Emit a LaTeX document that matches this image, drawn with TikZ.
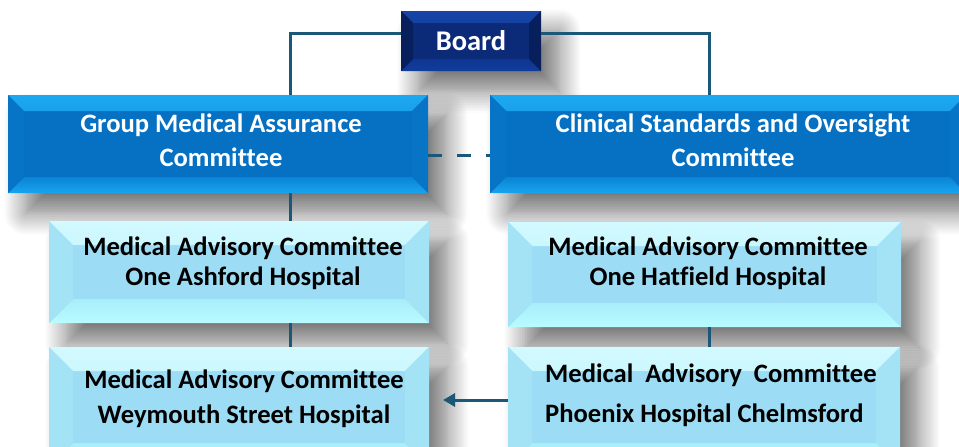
\documentclass[tikz,border=0pt]{standalone}
\usepackage{fontspec}
\setmainfont{Carlito}[Ligatures={NoCommon}]
\usetikzlibrary{shadows.blur,arrows.meta}
\definecolor{navyC}{HTML}{0B2A78}
\definecolor{navyT}{HTML}{1645A8}
\definecolor{navyTi}{HTML}{0E3388}
\definecolor{navyB}{HTML}{0E3592}
\definecolor{navyBo}{HTML}{123C9C}
\definecolor{navyS}{HTML}{081F5E}
\definecolor{blueC}{HTML}{0670C2}
\definecolor{blueT}{HTML}{1CA8F0}
\definecolor{blueTi}{HTML}{0A80D2}
\definecolor{blueBi}{HTML}{0A84D6}
\definecolor{blueB}{HTML}{18A4EE}
\definecolor{blueS}{HTML}{0874C6}
\definecolor{liteC}{HTML}{9CDCF4}
\definecolor{liteT}{HTML}{D2FAFF}
\definecolor{liteTi}{HTML}{B0ECFA}
\definecolor{liteBi}{HTML}{A8EEFA}
\definecolor{liteB}{HTML}{B8FCFF}
\definecolor{liteS}{HTML}{A4E2F6}
\definecolor{lineC}{HTML}{1B5877}
\tikzset{
  bevel/.style n args={6}{path picture={
    \shade[top color=#2, bottom color=#3] (path picture bounding box.north west) -- (path picture bounding box.north east)
      -- ([xshift=-#1pt,yshift=-#1pt]path picture bounding box.north east)
      -- ([xshift=#1pt,yshift=-#1pt]path picture bounding box.north west) -- cycle;
    \shade[top color=#4, bottom color=#5] (path picture bounding box.south west) -- (path picture bounding box.south east)
      -- ([xshift=-#1pt,yshift=#1pt]path picture bounding box.south east)
      -- ([xshift=#1pt,yshift=#1pt]path picture bounding box.south west) -- cycle;
    \fill[#6] (path picture bounding box.north west) -- (path picture bounding box.south west)
      -- ([xshift=#1pt,yshift=#1pt]path picture bounding box.south west)
      -- ([xshift=#1pt,yshift=-#1pt]path picture bounding box.north west) -- cycle;
    \fill[#6] (path picture bounding box.north east) -- (path picture bounding box.south east)
      -- ([xshift=-#1pt,yshift=#1pt]path picture bounding box.south east)
      -- ([xshift=-#1pt,yshift=-#1pt]path picture bounding box.north east) -- cycle;
  }},
  boxbase/.style={rectangle, inner sep=0pt, outer sep=0pt,
    blur shadow={shadow xshift=18pt, shadow yshift=-20pt, shadow blur radius=22pt,
      shadow blur steps=14, shadow opacity=55}},
  darkbox/.style={boxbase, fill=navyC, bevel={12}{navyT}{navyTi}{navyB}{navyBo}{navyS}, text=white,
    font=\fontsize{28.5}{32}\selectfont\bfseries},
  bluebox/.style={boxbase, fill=blueC, bevel={16}{blueT}{blueTi}{blueBi}{blueB}{blueS}},
  lightbox/.style={boxbase, fill=liteC, bevel={24}{liteT}{liteTi}{liteBi}{liteB}{liteS}},
  bluetext/.style={align=center, text=white, inner sep=0pt, font=\fontsize{26.6}{34}\selectfont\bfseries},
  lighttext/.style={align=center, text=black, inner sep=0pt, font=\fontsize{26.6}{30}\selectfont\bfseries},
  conn/.style={draw=lineC, line width=3pt},
}
\begin{document}
\begin{tikzpicture}[x=1pt,y=-1pt]
\useasboundingbox (0,0) rectangle (959,447);
\clip (0,0) rectangle (959,447);
\node[darkbox, minimum width=140pt, minimum height=60pt] (board) at (471,41) {Board};
\node[bluebox, minimum width=420pt, minimum height=98pt] (gmac) at (218,144) {};
\node[bluetext] (gmact) at (221,140) {Group Medical Assurance\\Committee};
\node[bluebox, minimum width=476pt, minimum height=98pt] (csoc) at (728,144) {};
\node[bluetext] (csoct) at (733,140) {Clinical Standards and Oversight\\Committee};
\node[lightbox, minimum width=380pt, minimum height=102pt] (ash) at (239,272) {};
\node[lighttext] (asht) at (243,263) {Medical Advisory Committee\\One Ashford Hospital};
\node[lightbox, minimum width=393pt, minimum height=105pt] (hat) at (704.5,274.5) {};
\node[lighttext] (hatt) at (708,263.5) {Medical Advisory Committee\\One Hatfield Hospital};
\node[lightbox, minimum width=380pt, minimum height=120pt] (wey) at (239,407) {};
\node[lighttext, font=\fontsize{26.6}{35}\selectfont\bfseries] (weyt) at (244,399) {Medical Advisory Committee\\Weymouth Street Hospital};
\node[lightbox, minimum width=392pt, minimum height=120pt] (pho) at (704,407) {};
\node[lighttext, align=left, anchor=west, font=\fontsize{26.6}{40}\selectfont\bfseries] (phot) at (545,395) {Medical\ \ Advisory\ \ Committee\\Phoenix Hospital Chelmsford};
\coordinate (gx) at (290,0);
\coordinate (hx) at (709,0);
\coordinate (dy) at (0,155);
\coordinate (ay) at (0,400);
\coordinate (tip) at (443,400);
\draw[conn] ([yshift=8pt]board.west) -| (gmac.north -| gx);
\draw[conn] ([yshift=8pt]board.east) -| (csoc.north -| hx);
\draw[conn] (gmac.south -| gx) -- (ash.north -| gx);
\draw[conn] (ash.south -| gx) -- (wey.north -| gx);
\draw[conn] (hat.south -| hx) -- (pho.north -| hx);
\draw[conn, dash pattern=on 14pt off 15pt] (gmac.east |- dy) -- (csoc.west |- dy);
\draw[conn, -{Triangle[length=12pt,width=13pt]}] (pho.west |- ay) -- (tip);
\end{tikzpicture}
\end{document}
